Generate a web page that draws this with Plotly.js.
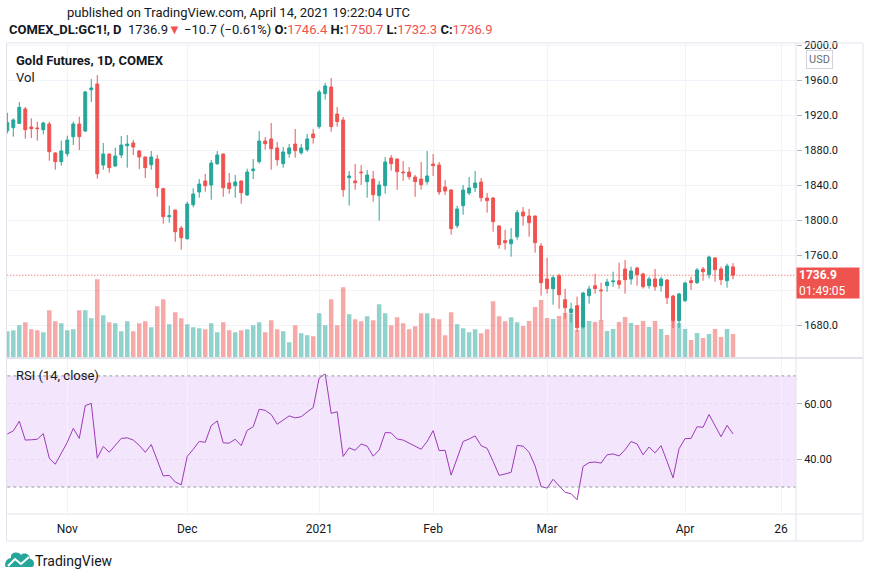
<!DOCTYPE html>
<html><head><meta charset="utf-8">
<script src="https://cdn.plot.ly/plotly-3.0.1.min.js"></script>
<style>html,body{margin:0;padding:0;background:#fff}#chart{width:871px;height:579px}</style>
</head><body><div id="chart"></div>
<script>
// ---- data (Gold Futures COMEX_DL:GC1!, daily) ----
const dates = [
'2020-10-19','2020-10-20','2020-10-21','2020-10-22','2020-10-23','2020-10-26','2020-10-27','2020-10-28','2020-10-29','2020-10-30',
'2020-11-02','2020-11-03','2020-11-04','2020-11-05','2020-11-06','2020-11-09','2020-11-10','2020-11-11','2020-11-12','2020-11-13',
'2020-11-16','2020-11-17','2020-11-18','2020-11-19','2020-11-20','2020-11-23','2020-11-24','2020-11-25','2020-11-27','2020-11-30',
'2020-12-01','2020-12-02','2020-12-03','2020-12-04','2020-12-07','2020-12-08','2020-12-09','2020-12-10','2020-12-11','2020-12-14',
'2020-12-15','2020-12-16','2020-12-17','2020-12-18','2020-12-21','2020-12-22','2020-12-23','2020-12-24','2020-12-28','2020-12-29',
'2020-12-30','2020-12-31','2021-01-04','2021-01-05','2021-01-06','2021-01-07','2021-01-08','2021-01-11','2021-01-12','2021-01-13',
'2021-01-14','2021-01-15','2021-01-19','2021-01-20','2021-01-21','2021-01-22','2021-01-25','2021-01-26','2021-01-27','2021-01-28',
'2021-01-29','2021-02-01','2021-02-02','2021-02-03','2021-02-04','2021-02-05','2021-02-08','2021-02-09','2021-02-10','2021-02-11',
'2021-02-12','2021-02-16','2021-02-17','2021-02-18','2021-02-19','2021-02-22','2021-02-23','2021-02-24','2021-02-25','2021-02-26',
'2021-03-01','2021-03-02','2021-03-03','2021-03-04','2021-03-05','2021-03-08','2021-03-09','2021-03-10','2021-03-11','2021-03-12',
'2021-03-15','2021-03-16','2021-03-17','2021-03-18','2021-03-19','2021-03-22','2021-03-23','2021-03-24','2021-03-25','2021-03-26',
'2021-03-29','2021-03-30','2021-03-31','2021-04-01','2021-04-05','2021-04-06','2021-04-07','2021-04-08','2021-04-09','2021-04-12',
'2021-04-13','2021-04-14'];

const open = [
1902.1,1905.5,1910.5,1926.9,1906.3,1905.1,1903.2,1909.7,1876.6,1866.7,
1875.8,1895.2,1909.7,1901.7,1948.9,1955.4,1862.8,1875.4,1861.7,1874.3,
1884.9,1888.0,1878.9,1872.0,1863.2,1869.7,1835.8,1803.8,1811.4,1790.8,
1778.6,1817.5,1832.0,1844.6,1840.0,1864.4,1875.4,1842.3,1839.2,1844.6,
1828.6,1856.4,1866.7,1890.3,1892.6,1882.3,1864.4,1875.8,1886.8,1876.9,
1880.4,1898.3,1906.7,1944.4,1952.0,1921.1,1914.3,1848.4,1844.6,1854.8,
1843.8,1846.8,1827.8,1839.2,1870.8,1869.7,1854.8,1854.8,1849.1,1846.8,
1843.8,1864.0,1862.8,1837.7,1834.3,1793.5,1816.4,1830.9,1836.9,1843.4,
1825.1,1825.1,1793.1,1776.4,1772.9,1780.9,1809.1,1804.6,1804.6,1770.3,
1732.6,1721.5,1736.4,1708.9,1694.1,1702.1,1677.7,1713.5,1724.9,1720.0,
1724.9,1729.5,1730.6,1744.0,1732.6,1745.1,1738.3,1724.9,1732.6,1724.9,
1731.4,1713.1,1684.9,1707.8,1730.6,1728.4,1744.0,1737.5,1756.6,1744.0,
1730.6,1746.4];
const high = [
1922.6,1916.2,1934.9,1929.1,1916.2,1912.4,1912.4,1912.4,1877.5,1890.6,
1896.4,1912.4,1918.1,1947.5,1961.1,1965.7,1888.0,1876.0,1882.6,1896.0,
1897.1,1891.4,1880.0,1872.5,1878.9,1874.3,1836.9,1816.4,1811.8,1793.1,
1820.9,1836.2,1846.8,1852.6,1868.6,1878.9,1875.8,1853.7,1851.4,1845.0,
1858.6,1869.7,1901.7,1894.8,1910.9,1889.1,1883.4,1886.8,1904.0,1886.8,
1898.3,1904.0,1948.6,1956.6,1962.3,1929.1,1917.7,1856.0,1864.0,1862.8,
1857.1,1856.0,1844.6,1872.0,1874.3,1870.2,1867.4,1860.6,1851.4,1866.3,
1878.9,1875.4,1866.3,1845.7,1835.4,1816.4,1840.0,1849.1,1856.0,1848.0,
1830.9,1826.3,1794.3,1788.9,1790.8,1811.4,1814.8,1812.6,1805.0,1773.7,
1756.9,1737.1,1738.6,1721.5,1705.5,1712.4,1718.0,1724.9,1738.6,1728.4,
1732.9,1740.9,1751.2,1754.3,1746.7,1746.7,1739.8,1735.2,1744.0,1735.2,
1732.6,1714.3,1716.9,1729.5,1735.2,1745.1,1746.3,1759.2,1757.7,1746.7,
1750.1,1750.7];
const low = [
1899.0,1895.2,1909.7,1892.9,1893.7,1890.6,1897.9,1867.8,1857.5,1862.1,
1872.4,1885.7,1880.0,1900.6,1934.9,1847.2,1857.5,1854.1,1860.6,1870.8,
1859.8,1874.3,1858.3,1848.0,1857.5,1826.6,1795.8,1796.9,1775.2,1766.1,
1777.5,1814.5,1825.5,1832.4,1823.2,1862.8,1826.6,1830.1,1825.5,1818.6,
1827.8,1846.8,1864.4,1880.4,1857.5,1862.1,1859.8,1871.2,1871.2,1874.7,
1878.1,1887.2,1904.4,1937.5,1900.9,1906.7,1826.6,1816.4,1834.6,1840.0,
1825.5,1820.9,1799.2,1830.1,1856.4,1834.6,1844.9,1846.1,1826.6,1834.6,
1840.3,1850.3,1828.6,1828.6,1783.2,1790.8,1806.1,1828.6,1832.0,1820.9,
1808.4,1786.6,1767.2,1766.1,1758.1,1777.5,1793.5,1780.9,1762.7,1713.5,
1715.8,1703.2,1698.6,1687.2,1682.6,1672.4,1675.8,1704.4,1715.8,1685.2,
1718.0,1723.8,1721.5,1715.8,1726.1,1724.9,1721.5,1721.5,1719.2,1718.1,
1704.0,1676.6,1676.6,1706.3,1720.0,1726.8,1730.6,1733.3,1729.5,1725.7,
1722.6,1732.3];
const close = [
1911.2,1914.3,1928.8,1903.2,1904.4,1904.4,1910.9,1878.1,1866.7,1878.9,
1891.4,1909.7,1895.2,1946.3,1950.9,1852.9,1875.4,1859.8,1873.1,1885.7,
1886.8,1883.4,1872.0,1859.8,1872.0,1836.9,1803.8,1804.9,1786.6,1779.8,
1818.3,1829.7,1841.1,1839.2,1865.1,1874.3,1836.9,1835.8,1843.4,1831.2,
1854.8,1858.3,1890.3,1887.2,1881.5,1868.9,1877.7,1882.3,1879.2,1882.3,
1892.6,1894.1,1946.3,1953.1,1906.7,1912.4,1834.6,1850.3,1842.6,1854.1,
1851.4,1828.9,1840.0,1866.3,1864.4,1855.2,1854.1,1849.5,1843.8,1840.3,
1850.3,1862.1,1832.0,1833.1,1790.1,1812.6,1834.3,1836.6,1842.3,1825.5,
1822.1,1798.1,1771.8,1774.1,1777.5,1808.4,1804.6,1797.0,1774.1,1728.4,
1721.5,1734.1,1714.6,1699.8,1698.3,1676.9,1716.5,1721.1,1721.5,1719.2,
1729.1,1730.3,1726.5,1731.8,1741.7,1737.5,1723.8,1732.6,1723.8,1732.6,
1711.2,1684.9,1715.4,1728.0,1728.4,1742.9,1741.0,1757.7,1743.2,1731.8,
1747.4,1736.9];
const volume = [ // thousands of contracts
103,107,127,139,111,107,99,187,143,135,
107,111,187,187,155,311,167,139,135,103,
143,103,135,143,119,203,231,131,179,155,
131,119,115,111,135,99,139,107,99,107,
111,127,139,99,147,111,103,59,127,95,
87,83,175,127,231,127,279,171,151,143,
163,147,211,175,127,159,135,111,123,175,
175,155,151,87,179,131,115,99,111,95,
111,223,163,143,159,139,124,144,200,228,
156,152,164,176,172,108,144,144,140,148,
104,112,140,160,136,128,144,120,144,112,
88,144,136,112,68,96,76,92,112,80,
112,92];
const rsi = [
49.1,50.2,53.7,46.9,47.0,47.2,49.2,40.4,38.2,42.2,
46.1,51.1,47.5,59.3,60.1,40.4,44.6,42.5,44.9,47.5,
47.7,46.9,45.0,42.5,45.3,39.8,34.0,34.2,31.8,30.8,
41.0,43.6,46.4,46.1,52.1,53.8,45.9,45.8,47.2,44.9,
50.4,51.7,58.0,57.6,56.1,52.6,54.1,55.6,54.9,55.3,
57.0,58.6,69.2,70.7,56.5,57.1,41.0,44.1,43.2,45.5,
44.7,41.1,43.3,49.6,49.5,47.3,46.9,45.7,44.6,43.6,
46.4,50.3,43.1,43.2,34.3,40.4,46.4,47.3,48.4,44.9,
43.9,39.2,34.2,34.7,35.3,45.0,44.7,42.5,37.6,30.2,
29.6,32.8,30.4,28.1,27.6,25.4,37.4,38.8,39.0,38.6,
41.6,41.9,41.2,43.4,46.4,45.5,41.6,44.4,42.3,44.9,
39.2,33.3,43.8,47.4,47.5,51.7,51.5,56.1,52.1,48.1,
52.2,49.1];
const futureSessions = ['2021-04-15','2021-04-16','2021-04-19','2021-04-20','2021-04-21','2021-04-22','2021-04-23','2021-04-26'];
const tickDates  = ['2020-11-02','2020-12-01','2021-01-04','2021-02-01','2021-03-01','2021-04-01','2021-04-26'];
const tickLabels = ['Nov','Dec','2021','Feb','Mar','Apr','26'];
const priceTicks = [1680,1720,1760,1800,1840,1880,1920,1960,2000];
const priceTickLabels = ['1680.0','','1760.0','1800.0','1840.0','1880.0','1920.0','1960.0','2000.0']; // 1720.0 sits under the price tag
const rsiTicks = [40,60];
const rsiTickLabels = ['40.00','60.00'];
const lastPrice = 1736.9;

// ---- build ----
const sessions = dates.concat(futureSessions);
const xs = dates.map(d => sessions.indexOf(d));
const tickvals = tickDates.map(d => sessions.indexOf(d));
const UP = '#26a69a', DN = '#ef5350';
const volColors = close.map((c,k) => c >= open[k] ? 'rgba(38,166,154,0.5)' : 'rgba(239,83,80,0.5)');

// pixel helpers for decorations (plot area: l=7, t=43, w=789, h=471)
const L=7,T=43,W=789,H=471;
const px = X => (X-L)/W, py = Y => 1-(Y-T)/H;

const FONT = 'Roboto, "Open Sans", sans-serif';
const TXT = '#131722';
const GRID = '#f0f3fa';
const FRAME = '#e0e3eb';

const traces = [
  {type:'bar', x:xs, y:volume, xaxis:'x', yaxis:'y', marker:{color:volColors, line:{width:0}}, width:0.75, hoverinfo:'skip'},
  {type:'candlestick', x:xs, open:open, high:high, low:low, close:close, xaxis:'x', yaxis:'y2',
   increasing:{line:{color:UP,width:1}, fillcolor:UP}, decreasing:{line:{color:DN,width:1}, fillcolor:DN},
   whiskerwidth:0, hoverinfo:'skip'},
  {type:'scatter', mode:'lines', x:xs, y:rsi, xaxis:'x', yaxis:'y3', line:{color:'#9c39b8', width:1}, hoverinfo:'skip'}
];

const rd = (X,Y) => px(X).toFixed(5)+','+py(Y).toFixed(5);
const logoCloud = 'M'+rd(6,567)+' L'+rd(32,567)+' C'+rd(35,567)+' '+rd(35,559)+' '+rd(30,559)+
  ' C'+rd(30,554)+' '+rd(24,552)+' '+rd(21,555)+' C'+rd(18,551)+' '+rd(10,552)+' '+rd(11,558)+
  ' C'+rd(5,558)+' '+rd(4,567)+' '+rd(6,567)+' Z';
const logoLine = 'M'+rd(8,566)+' L'+rd(15,559)+' L'+rd(21,564)+' L'+rd(29,557);

const shapes = [
  {type:'rect', xref:'x', yref:'y3', x0:-5, x1:140, y0:30, y1:70, fillcolor:'#f3e6fc', line:{width:0}, layer:'below'},
  {type:'line', xref:'x', yref:'y3', x0:-5, x1:140, y0:70, y1:70, line:{color:'#9598a1', width:1, dash:'3px,3px'}},
  {type:'line', xref:'x', yref:'y3', x0:-5, x1:140, y0:30, y1:30, line:{color:'#9598a1', width:1, dash:'3px,3px'}},
  {type:'line', xref:'x', yref:'y2', x0:-5, x1:140, y0:lastPrice, y1:lastPrice, line:{color:DN, width:1, dash:'1px,2px'}},
  // frame
  {type:'rect', xref:'paper', yref:'paper', x0:px(6.5), x1:px(863), y0:py(43), y1:py(541), line:{color:FRAME, width:1}},
  {type:'line', xref:'paper', yref:'paper', x0:px(796), x1:px(796), y0:py(43), y1:py(541), line:{color:FRAME, width:1}},
  {type:'line', xref:'paper', yref:'paper', x0:px(6.5), x1:px(863), y0:py(358), y1:py(358), line:{color:FRAME, width:2}},
  {type:'line', xref:'paper', yref:'paper', x0:px(6.5), x1:px(863), y0:py(514), y1:py(514), line:{color:FRAME, width:1}},
  // logo
  {type:'path', xref:'paper', yref:'paper', path:logoCloud, fillcolor:'#26a69a', line:{width:0}},
  {type:'path', xref:'paper', yref:'paper', path:logoLine, line:{color:'#ffffff', width:2}}
];

const red = s => '<span style="color:#ef5350">'+s+'</span>';
const annotations = [
  {xref:'paper', yref:'paper', x:px(238), y:py(12), xanchor:'center', yanchor:'middle', showarrow:false,
   text:'published on TradingView.com, April 14, 2021 19:22:04 UTC', font:{family:FONT, size:13, color:TXT}},
  {xref:'paper', yref:'paper', x:px(7), y:py(29), xanchor:'left', yanchor:'middle', showarrow:false, align:'left',
   text:'<b>COMEX_DL:GC1!, D</b>  1736.9'+red('▼')+' −10.7 (−0.61%) <b>O:</b>'+red('1746.4')+' <b>H:</b>'+red('1750.7')+' <b>L:</b>'+red('1732.3')+' <b>C:</b>'+red('1736.9'),
   font:{family:FONT, size:13, color:TXT}},
  {xref:'paper', yref:'paper', x:px(14), y:py(60), xanchor:'left', yanchor:'middle', showarrow:false,
   text:'<b>Gold Futures, 1D, COMEX</b>', font:{family:FONT, size:13, color:TXT}},
  {xref:'paper', yref:'paper', x:px(14), y:py(77), xanchor:'left', yanchor:'middle', showarrow:false,
   text:'Vol', font:{family:FONT, size:13, color:TXT}},
  {xref:'paper', yref:'paper', x:px(14), y:py(375), xanchor:'left', yanchor:'middle', showarrow:false,
   text:'RSI (14, close)', font:{family:FONT, size:13, color:TXT}},
  {xref:'paper', yref:'paper', x:px(819), y:py(59), xanchor:'center', yanchor:'middle', showarrow:false,
   text:'USD', font:{family:FONT, size:11, color:'#6a6d78'}, bordercolor:'#d1d4dc', borderwidth:1, borderpad:2, bgcolor:'#ffffff'},
  {xref:'paper', yref:'y2', x:px(796), y:lastPrice, xanchor:'left', yanchor:'top', yshift:8, showarrow:false, align:'left',
   text:'<b>1736.9</b><br>01:49:05', font:{family:FONT, size:12, color:'#ffffff'}, bgcolor:DN, borderpad:2, width:58, height:26},
  {xref:'paper', yref:'paper', x:px(33), y:py(561), xanchor:'left', yanchor:'middle', showarrow:false,
   text:'TradingView', font:{family:FONT, size:14, color:TXT}}
];

const layout = {
  width:871, height:579,
  margin:{l:L, r:871-L-W, t:T, b:579-T-H, pad:0},
  paper_bgcolor:'#ffffff', plot_bgcolor:'rgba(0,0,0,0)',
  showlegend:false, hovermode:false, dragmode:false,
  font:{family:FONT, size:12, color:TXT},
  xaxis:{range:[-0.05,131.5], anchor:'y3', tickmode:'array', tickvals:tickvals, ticktext:tickLabels,
         showgrid:true, gridcolor:GRID, zeroline:false, showline:false, ticks:'', ticklabelstandoff:6,
         tickfont:{size:12, color:TXT}, rangeslider:{visible:false}, fixedrange:true},
  yaxis:{domain:[(514-357)/471,1], range:[0,1256], visible:false, showgrid:false, fixedrange:true},
  yaxis2:{overlaying:'y', side:'right', anchor:'x', range:[1643.43,2002.29], tickmode:'array', tickvals:priceTicks,
          ticktext:priceTickLabels, ticks:'outside', ticklen:5, tickcolor:'#b2b5be', showgrid:true, gridcolor:GRID,
          zeroline:false, showline:false, tickfont:{size:11, color:TXT}, fixedrange:true},
  yaxis3:{domain:[0,155/471], range:[20.29,76.08], side:'right', anchor:'x', tickmode:'array', tickvals:rsiTicks,
          ticktext:rsiTickLabels, ticks:'outside', ticklen:5, tickcolor:'#b2b5be', showgrid:true, gridcolor:'#e6dcef', griddash:'dot',
          zeroline:false, showline:false, tickfont:{size:11, color:TXT}, fixedrange:true},
  shapes:shapes, annotations:annotations
};

Plotly.newPlot('chart', traces, layout, {staticPlot:true, displayModeBar:false});
</script></body></html>
